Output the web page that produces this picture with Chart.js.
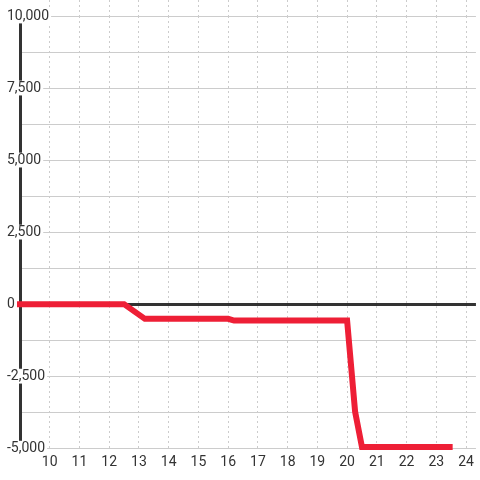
<!DOCTYPE html>
<html>
<head>
<meta charset="utf-8">
<script src="https://cdn.jsdelivr.net/npm/chart.js@4.4.0/dist/chart.umd.min.js"></script>
<style>
    html, body { margin: 0; padding: 0; background: #ffffff; }
    #chart { display: block; }
</style>
</head>
<body>
<canvas id="chart" width="480" height="480"></canvas>
<script>
// series
const xValues = [8.9, 12.5, 13.2, 16.0, 16.2, 20.0, 20.27, 20.5, 23.55];
const yValues = [0, 0, -510, -510, -570, -570, -3740, -4960, -4960];

// axes
const xTicks = [10, 11, 12, 13, 14, 15, 16, 17, 18, 19, 20, 21, 22, 23, 24];
const yGridValues = [-5000, -3750, -2500, -1250, 0, 1250, 2500, 3750, 5000, 6250, 7500, 8750, 10000];
const yLabelValues = [-5000, -2500, 0, 2500, 5000, 7500, 10000];
const xMin = 9;
const xMax = 24.333;
const yMin = -5000;
const yMax = 10000;

const GRID_COLOR = '#cccccc';
const TEXT_COLOR = '#333333';
const LINE_COLOR = '#ee1f36';

Chart.defaults.font.family = 'Roboto, "Liberation Sans", sans-serif';
Chart.defaults.font.size = 14;

const setXTicks = (scale) => {
    scale.ticks = xTicks.map(v => ({ value: v }));
};

const ctx = document.getElementById('chart').getContext('2d');

new Chart(ctx, {
    type: 'line',
    data: {
        datasets: [{
            data: xValues.map((x, i) => ({ x: x, y: yValues[i] })),
            borderColor: LINE_COLOR,
            borderWidth: 6,
            pointRadius: 0,
            tension: 0,
            fill: false,
            clip: 4
        }]
    },
    options: {
        responsive: false,
        devicePixelRatio: 1,
        animation: false,
        layout: { padding: { left: 7, right: 0, top: 0, bottom: 3 } },
        plugins: {
            legend: { display: false },
            tooltip: { enabled: false }
        },
        scales: {
            x: {
                type: 'linear',
                position: 'bottom',
                min: xMin,
                max: xMax,
                afterBuildTicks: setXTicks,
                grid: {
                    color: GRID_COLOR,
                    lineWidth: 1,
                    drawTicks: false,
                    z: -2
                },
                border: { display: false, dash: [2, 3] },
                ticks: {
                    color: TEXT_COLOR,
                    padding: 6,
                    maxRotation: 0,
                    autoSkip: false,
                    callback: (value) => String(value)
                }
            },
            xTop: {
                type: 'linear',
                position: 'top',
                min: xMin,
                max: xMax,
                afterBuildTicks: setXTicks,
                grid: {
                    drawOnChartArea: false,
                    drawTicks: true,
                    tickLength: 16,
                    tickColor: GRID_COLOR,
                    tickWidth: 1,
                    tickBorderDash: [2, 3],
                    z: -2
                },
                border: { display: false },
                ticks: { display: false }
            },
            y: {
                type: 'linear',
                position: 'left',
                min: yMin,
                max: yMax,
                afterBuildTicks: (scale) => {
                    scale.ticks = yGridValues.map(v => ({ value: v }));
                },
                afterFit: (scale) => {
                    scale.width = 13;
                },
                grid: {
                    color: (c) => (c.tick && c.tick.value === 0) ? '#333333' : GRID_COLOR,
                    lineWidth: (c) => (c.tick && c.tick.value === 0) ? 3 : 1,
                    drawTicks: false,
                    z: -1
                },
                border: { display: true, color: '#333333', width: 3 },
                ticks: {
                    color: TEXT_COLOR,
                    mirror: true,
                    padding: -13,
                    autoSkip: false,
                    showLabelBackdrop: true,
                    backdropColor: '#ffffff',
                    backdropPadding: { top: -1, bottom: -1, left: 2, right: 2 },
                    callback: (value) => yLabelValues.includes(value) ? value.toLocaleString('en-US') : ''
                }
            }
        }
    }
});
</script>
</body>
</html>
